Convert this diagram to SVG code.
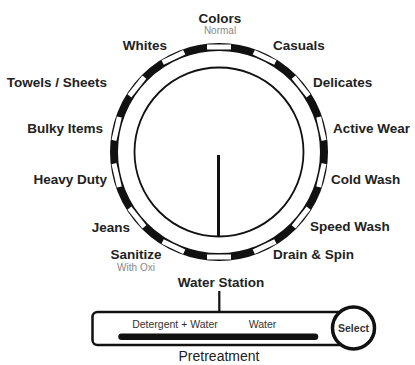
<svg xmlns="http://www.w3.org/2000/svg" width="415" height="365" viewBox="0 0 415 365">
<style>
.lbl{font-family:"Liberation Sans",Arial,sans-serif;font-weight:bold;font-size:13.5px;fill:#222}
.sub{font-family:"Liberation Sans",Arial,sans-serif;font-size:10px;fill:#888}
.small{font-family:"Liberation Sans",Arial,sans-serif;font-size:10.5px;fill:#333}
.pre{font-family:"Liberation Sans",Arial,sans-serif;font-size:14px;fill:#222}
.ln{fill:none;stroke:#111}
.lnw{fill:#fff;stroke:#111}
</style>
<defs>
<rect id="win" x="207" y="44.5" width="24" height="5" fill="#fff"/>
</defs>
<rect width="415" height="365" fill="#fff"/>
<g id="dial">
<circle class="ln" cx="219" cy="152" r="105" stroke-width="8"/>
<use href="#win" transform="rotate(0 219 152)"/>
<use href="#win" transform="rotate(25.714 219 152)"/>
<use href="#win" transform="rotate(51.429 219 152)"/>
<use href="#win" transform="rotate(77.143 219 152)"/>
<use href="#win" transform="rotate(102.857 219 152)"/>
<use href="#win" transform="rotate(128.571 219 152)"/>
<use href="#win" transform="rotate(154.286 219 152)"/>
<use href="#win" transform="rotate(180 219 152)"/>
<use href="#win" transform="rotate(205.714 219 152)"/>
<use href="#win" transform="rotate(231.429 219 152)"/>
<use href="#win" transform="rotate(257.143 219 152)"/>
<use href="#win" transform="rotate(282.857 219 152)"/>
<use href="#win" transform="rotate(308.571 219 152)"/>
<use href="#win" transform="rotate(334.286 219 152)"/>
<circle class="ln" cx="219" cy="152" r="84.5" stroke-width="1.8"/>
<line class="ln" x1="218.5" y1="155" x2="218.5" y2="236" stroke-width="3"/>
</g>
<g id="colors"><text class="lbl" x="220" y="23" text-anchor="middle">Colors</text><text class="sub" x="220" y="34" text-anchor="middle">Normal</text></g>
<g id="casuals"><text class="lbl" x="273" y="50">Casuals</text></g>
<g id="delicates"><text class="lbl" x="313" y="87">Delicates</text></g>
<g id="active-wear"><text class="lbl" x="333" y="133">Active Wear</text></g>
<g id="cold-wash"><text class="lbl" x="331" y="184">Cold Wash</text></g>
<g id="speed-wash"><text class="lbl" x="310" y="231">Speed Wash</text></g>
<g id="drain-spin"><text class="lbl" x="273" y="259">Drain &amp; Spin</text></g>
<g id="whites"><text class="lbl" x="167" y="50" text-anchor="end">Whites</text></g>
<g id="towels"><text class="lbl" x="107" y="87" text-anchor="end">Towels / Sheets</text></g>
<g id="bulky"><text class="lbl" x="103" y="133" text-anchor="end">Bulky Items</text></g>
<g id="heavy"><text class="lbl" x="107" y="184" text-anchor="end">Heavy Duty</text></g>
<g id="jeans"><text class="lbl" x="130" y="232" text-anchor="end">Jeans</text></g>
<g id="sanitize"><text class="lbl" x="136" y="259" text-anchor="middle">Sanitize</text><text class="sub" x="136" y="271" text-anchor="middle">With Oxi</text></g>
<g id="water-station"><text class="lbl" x="221" y="287" text-anchor="middle">Water Station</text></g>
<g id="connectors">
<line class="ln" x1="219.3" y1="291" x2="219.3" y2="312" stroke-width="2.2"/>
</g>
<g id="pretreatment">
<rect class="lnw" x="92.5" y="312" width="252" height="33" rx="5" stroke-width="2.5"/>
<text class="small" x="175" y="328" text-anchor="middle">Detergent + Water</text>
<text class="small" x="262.5" y="328" text-anchor="middle">Water</text>
<line class="ln" x1="121.5" y1="336.7" x2="315" y2="336.7" stroke-width="6.5" stroke-linecap="round"/>
<text class="pre" x="219" y="361" text-anchor="middle">Pretreatment</text>
</g>
<g id="select">
<circle class="lnw" cx="353.5" cy="328" r="21" stroke-width="3.5"/>
<text class="small" x="353.5" y="331.5" text-anchor="middle" font-size="9.5" font-weight="bold">Select</text>
</g>
</svg>
